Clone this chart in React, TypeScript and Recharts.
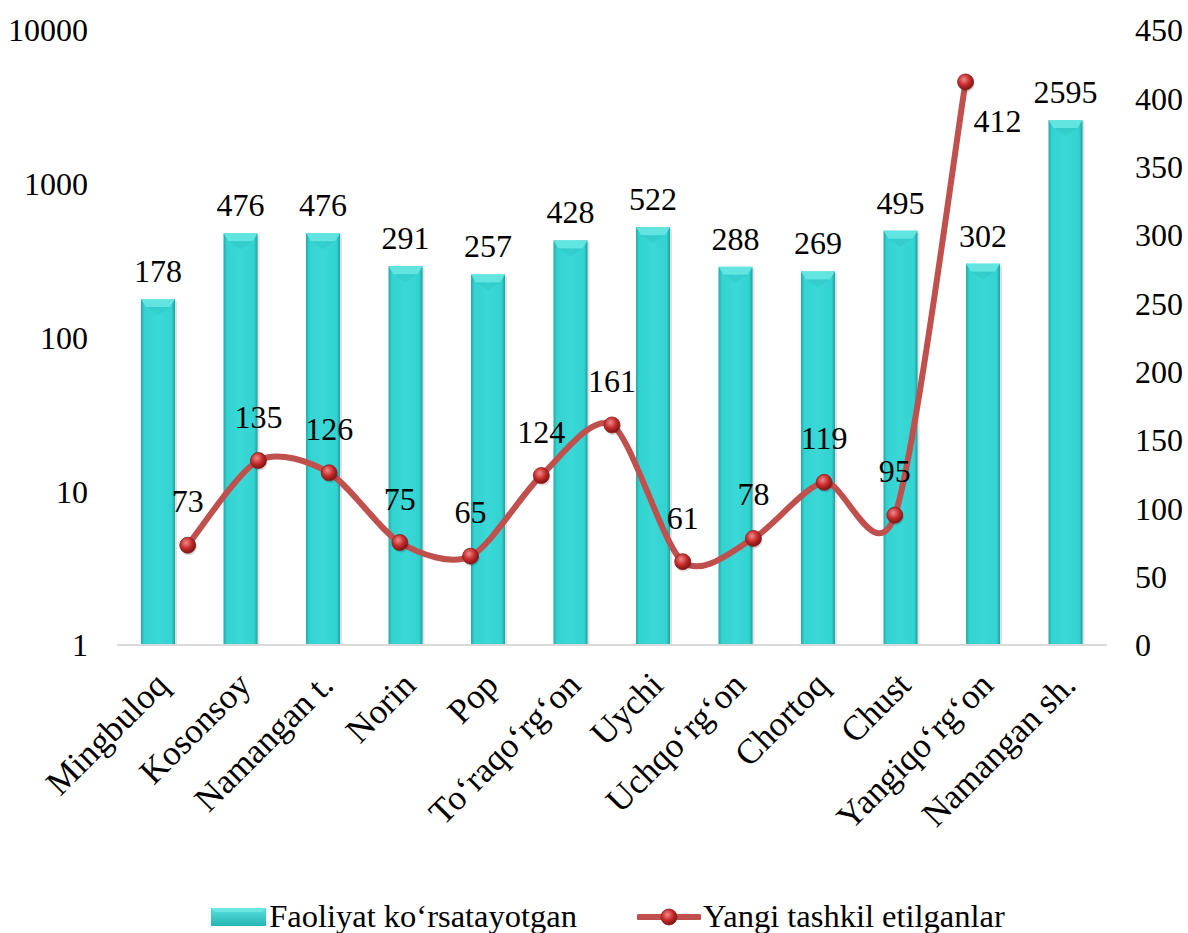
import {
  ComposedChart,
  Bar,
  Line,
  XAxis,
  YAxis,
  Legend,
  LabelList,
} from "recharts";

// categories (districts)
const districts = [
  "Mingbuloq",
  "Kosonsoy",
  "Namangan t.",
  "Norin",
  "Pop",
  "To‘raqo‘rg‘on",
  "Uychi",
  "Uchqo‘rg‘on",
  "Chortoq",
  "Chust",
  "Yangiqo‘rg‘on",
  "Namangan sh.",
];

// active enterprises (left, log axis)
const activeCounts = [178, 476, 476, 291, 257, 428, 522, 288, 269, 495, 302, 2595];

// newly created (right axis); last district has no value
const newCounts: (number | null)[] = [73, 135, 126, 75, 65, 124, 161, 61, 78, 119, 95, 412];

const leftTicks = [1, 10, 100, 1000, 10000];
const rightTicks = [0, 50, 100, 150, 200, 250, 300, 350, 400, 450];

const BAR_NAME = "Faoliyat ko‘rsatayotgan";
const LINE_NAME = "Yangi tashkil etilganlar";

const FONT = '"Liberation Serif", "Times New Roman", serif';
const LINE_COLOR = "#c0504d";

const chartData = districts.map((name, i) => ({
  name,
  idx: i,
  active: activeCounts[i],
  created: i < newCounts.length ? newCounts[i] : null,
}));

// Excel-like smoothed line (catmull-rom style bezier)
function smoothCurve(context: any) {
  let pts: [number, number][] = [];
  return {
    areaStart() {},
    areaEnd() {},
    lineStart() {
      pts = [];
    },
    point(x: number, y: number) {
      pts.push([x, y]);
    },
    lineEnd() {
      if (!pts.length) return;
      const t = 0.14;
      context.moveTo(pts[0][0], pts[0][1]);
      for (let i = 0; i < pts.length - 1; i++) {
        const p0 = pts[i - 1] || pts[i];
        const p1 = pts[i];
        const p2 = pts[i + 1];
        const p3 = pts[i + 2] || p2;
        context.bezierCurveTo(
          p1[0] + (p2[0] - p0[0]) * t,
          p1[1] + (p2[1] - p0[1]) * t,
          p2[0] - (p3[0] - p1[0]) * t,
          p2[1] - (p3[1] - p1[1]) * t,
          p2[0],
          p2[1]
        );
      }
    },
  };
}

const CylBar = (props: any) => {
  const {x, y, width, height} = props;
  if (!height || height <= 0) return null;
  return (
    <g>
      <rect x={x + 2} y={y + 2} width={width} height={height} fill="#000" opacity={0.12}/>
      <rect x={x} y={y} width={width} height={height} fill="url(#barGrad)"/>
      <polygon
        points={`${x},${y} ${x + width},${y} ${x + width - 5},${y + 8} ${x + 5},${y + 8}`}
        fill="#62e4e1"
      />
      <polygon
        points={`${x + 5},${y + 8} ${x + width - 5},${y + 8} ${x + width / 2},${y + 16}`}
        fill="#2fc4c2"
        opacity={0.45}
      />
    </g>
  );
};

const BarValue = (props: any) => {
  const {x, y, width, value} = props;
  if (value === undefined || value === null) return null;
  return (
    <text x={x + width / 2} y={y - 17} textAnchor="middle" fontFamily={FONT} fontSize={32} fill="#000">
      {value}
    </text>
  );
};

const LineValue = (props: any) => {
  const {x, y, value, index} = props;
  if (value === undefined || value === null) return null;
  const last = index === newCounts.length - 1;
  return (
    <text
      x={last ? x + 8 : x}
      y={last ? y + 50 : y - 33}
      textAnchor={last ? "start" : "middle"}
      fontFamily={FONT}
      fontSize={32}
      fill="#000"
    >
      {value}
    </text>
  );
};

const Ball = (props: any) => {
  const {cx, cy, value} = props;
  if (value === undefined || value === null || cx == null || cy == null) return null;
  return (
    <g>
      <circle cx={cx + 1} cy={cy + 2} r={8} fill="#000" opacity={0.15}/>
      <circle cx={cx} cy={cy} r={8} fill="url(#ballGrad)" stroke="#8b1f1f" strokeWidth={0.8}/>
    </g>
  );
};

const CategoryTick = (props: any) => {
  const {x, y, payload} = props;
  const ax = x + 12;
  const ay = y + 34;
  return (
    <text
      x={ax}
      y={ay}
      textAnchor="end"
      fontFamily={FONT}
      fontSize={35}
      fill="#000"
      transform={`rotate(-45, ${ax}, ${ay})`}
    >
      {payload.value}
    </text>
  );
};

const ChartLegend = () => (
  <div
    style={{
      display: "flex",
      justifyContent: "center",
      alignItems: "center",
      height: 33,
      fontFamily: FONT,
      fontSize: 32.5,
      color: "#000",
      gap: 60,
      paddingLeft: 28,
    }}
  >
    <span style={{display: "flex", alignItems: "center"}}>
      <svg width={56} height={20} style={{marginRight: 2}}>
        <rect x={0} y={1} width={55} height={18} fill="url(#legendBarGrad)"/>
        <polygon points="0,1 55,1 51,5 4,5" fill="#6ce6e3"/>
      </svg>
      {BAR_NAME}
    </span>
    <span style={{display: "flex", alignItems: "center"}}>
      <svg width={64} height={20} style={{marginRight: 2}}>
        <defs>
          <radialGradient id="legBall" cx="40%" cy="35%" r="65%">
            <stop offset="0%" stopColor="#f08a8a"/>
            <stop offset="55%" stopColor="#c62b2b"/>
            <stop offset="100%" stopColor="#7d1414"/>
          </radialGradient>
          <linearGradient id="legendBarGrad" x1="0" y1="0" x2="0" y2="1">
            <stop offset="0%" stopColor="#58e0dd"/>
            <stop offset="100%" stopColor="#27b4b3"/>
          </linearGradient>
        </defs>
        <line x1={2} y1={10} x2={62} y2={10} stroke={LINE_COLOR} strokeWidth={6} strokeLinecap="round"/>
        <circle cx={32} cy={10} r={8} fill="url(#legBall)" stroke="#8b1f1f" strokeWidth={0.8}/>
      </svg>
      {LINE_NAME}
    </span>
  </div>
);

export default function App() {
  return (
    <div style={{position: "absolute", left: 0, top: 0, width: 1188, height: 933, background: "#fff"}}>
      <ComposedChart
        width={1188}
        height={933}
        data={chartData}
        margin={{top: 30, right: 0, bottom: 0, left: 0}}
      >
        <defs>
          <linearGradient id="barGrad" x1="0" y1="0" x2="1" y2="0">
            <stop offset="0%" stopColor="#23a9a8"/>
            <stop offset="10%" stopColor="#33d3d1"/>
            <stop offset="50%" stopColor="#3ad8d6"/>
            <stop offset="90%" stopColor="#33d3d1"/>
            <stop offset="100%" stopColor="#1f9f9e"/>
          </linearGradient>
          <radialGradient id="ballGrad" cx="40%" cy="35%" r="65%">
            <stop offset="0%" stopColor="#f08a8a"/>
            <stop offset="55%" stopColor="#c62b2b"/>
            <stop offset="100%" stopColor="#7d1414"/>
          </radialGradient>
        </defs>
        <XAxis
          xAxisId="bar"
          dataKey="name"
          type="category"
          interval={0}
          height={255}
          axisLine={{stroke: "#d9d9d9", strokeWidth: 2}}
          tickLine={false}
          tick={<CategoryTick/>}
        />
        <XAxis xAxisId="line" dataKey="idx" type="number" domain={[-1, 13]} hide/>
        <YAxis
          yAxisId="left"
          scale="log"
          domain={[1, 10000]}
          ticks={leftTicks}
          allowDataOverflow
          width={117}
          axisLine={false}
          tickLine={false}
          tickSize={0}
          tickMargin={29}
          tick={{fontFamily: FONT, fontSize: 32, fill: "#000"}}
        />
        <YAxis
          yAxisId="right"
          orientation="right"
          domain={[0, 450]}
          ticks={rightTicks}
          width={81}
          axisLine={false}
          tickLine={false}
          tickSize={0}
          tickMargin={28}
          tick={{fontFamily: FONT, fontSize: 32, fill: "#000", textAnchor: "start"}}
        />
        <Legend verticalAlign="bottom" content={<ChartLegend/>} wrapperStyle={{height: 33}}/>
        <Bar
          xAxisId="bar"
          yAxisId="left"
          dataKey="active"
          name={BAR_NAME}
          barSize={34}
          shape={<CylBar/>}
          isAnimationActive={false}
        >
          <LabelList dataKey="active" content={<BarValue/>}/>
        </Bar>
        <Line
          xAxisId="line"
          yAxisId="right"
          dataKey="created"
          name={LINE_NAME}
          type={smoothCurve as any}
          stroke={LINE_COLOR}
          strokeWidth={6}
          dot={<Ball/>}
          activeDot={false}
          label={<LineValue/>}
          isAnimationActive={false}
        />
      </ComposedChart>
    </div>
  );
}
